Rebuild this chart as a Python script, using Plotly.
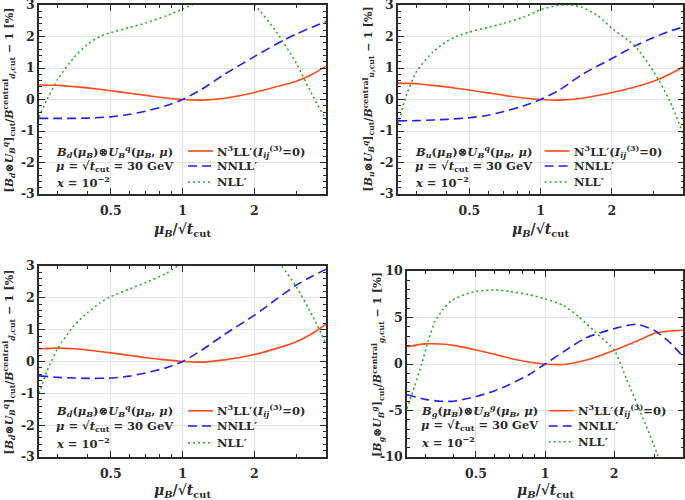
import plotly.graph_objects as go

# ---------------------------------------------------------------------------
# Data
# ---------------------------------------------------------------------------
x_ticks = [0.5, 1, 2]
x_ticktext = ['0.5', '1', '2']
x_minor = [0.3, 0.4, 0.6, 0.7, 0.8, 0.9, 3, 4]
y_ticks_small = [-3, -2, -1, 0, 1, 2, 3]
y_ticktext_small = ['-3', '-2', '-1', '0', '1', '2', '3']
y_ticks_gluon = [-10, -5, 0, 5, 10]
y_ticktext_gluon = ['-10', '-5', '0', '5', '10']

mu = [0.25, 0.3, 0.35, 0.4, 0.5, 0.6, 0.7, 0.85, 1.0, 1.2, 1.5, 2.0, 2.5, 3.0, 3.5, 4.0]

# B_d
d_n3ll = [0.46, 0.45, 0.41, 0.37, 0.28, 0.20, 0.13, 0.05, 0.0, -0.02, 0.04, 0.22, 0.41, 0.58, 0.80, 1.06]
d_nnll = [-0.60, -0.60, -0.60, -0.59, -0.55, -0.47, -0.37, -0.20, 0.0, 0.32, 0.80, 1.36, 1.78, 2.08, 2.30, 2.48]
d_nll_x = [0.25, 0.27, 0.3, 0.35, 0.4, 0.45, 0.5, 0.6, 0.7, 0.85, 1.0, 1.2, 1.4, 1.6, 1.8, 2.0, 2.5, 3.0, 3.5, 4.0]
d_nll = [-0.55, 0.0, 0.65, 1.33, 1.76, 2.0, 2.12, 2.29, 2.43, 2.65, 2.87, 3.12, 3.25, 3.25, 3.15, 3.0, 2.1, 1.15, 0.15, -0.65]

# B_u
u_n3ll = [0.52, 0.50, 0.45, 0.40, 0.30, 0.21, 0.13, 0.05, 0.0, -0.02, 0.04, 0.22, 0.40, 0.58, 0.80, 1.04]
u_nnll = [-0.68, -0.67, -0.65, -0.63, -0.58, -0.50, -0.38, -0.20, 0.0, 0.30, 0.80, 1.30, 1.70, 1.97, 2.17, 2.30]
u_nll_x = [0.25, 0.27, 0.3, 0.35, 0.4, 0.45, 0.5, 0.6, 0.7, 0.85, 1.0, 1.2, 1.35, 1.5, 1.75, 2.0, 2.5, 3.0, 3.5, 4.0]
u_nll = [-0.8, 0.1, 0.9, 1.5, 1.84, 2.03, 2.14, 2.29, 2.42, 2.62, 2.85, 3.0, 3.0, 2.93, 2.65, 2.26, 1.7, 0.88, -0.03, -1.1]

# B_dbar
db_n3ll = [0.40, 0.42, 0.40, 0.36, 0.27, 0.19, 0.12, 0.05, 0.0, -0.02, 0.05, 0.22, 0.42, 0.62, 0.88, 1.17]
db_nnll = [-0.45, -0.50, -0.52, -0.53, -0.52, -0.46, -0.36, -0.20, 0.0, 0.35, 0.85, 1.45, 1.98, 2.40, 2.68, 2.90]
db_nll_x = [0.25, 0.27, 0.3, 0.35, 0.4, 0.45, 0.5, 0.6, 0.7, 0.85, 1.0, 1.3, 1.6, 2.0, 2.3, 2.6, 3.0, 3.5, 4.0]
db_nll = [-1.0, -0.3, 0.42, 1.12, 1.54, 1.84, 2.04, 2.28, 2.48, 2.76, 3.1, 3.55, 3.75, 3.65, 3.35, 3.0, 2.35, 1.45, 0.55]

# B_g
g_n3ll = [1.85, 2.16, 2.15, 2.0, 1.5, 1.05, 0.62, 0.22, 0.0, -0.05, 0.40, 1.48, 2.45, 3.3, 3.55, 3.63]
g_nnll = [-3.3, -3.8, -4.0, -4.0, -3.5, -2.9, -2.2, -1.15, 0.0, 1.3, 2.8, 3.8, 4.28, 3.6, 2.3, 0.77]
g_nll_x = [0.25, 0.27, 0.29, 0.31, 0.33, 0.36, 0.39, 0.45, 0.5, 0.6, 0.7, 0.85, 1.0, 1.2, 1.4, 1.65, 2.0, 2.27, 2.73, 3.07, 3.5, 4.0]
g_nll = [-4.8, -2.4, 0.0, 2.5, 4.5, 5.9, 6.8, 7.5, 7.8, 7.97, 7.8, 7.45, 7.0, 6.3, 5.1, 3.45, 1.5, -1.7, -6.4, -9.6, -14.0, -19.0]

# ---------------------------------------------------------------------------
# Style
# ---------------------------------------------------------------------------
FONT = 'DejaVu Serif'
INK = '#2b2b2b'
RED, BLUE, GREEN = '#ff4a1c', '#1f1fff', '#1fb31f'
LINES = [
    dict(color=RED, width=1.6),
    dict(color=BLUE, width=1.6, dash='9px,5px'),
    dict(color=GREEN, width=1.6, dash='2px,3px'),
]

legend_names = [
    'N<sup>3</sup>LL′(<i>I</i><sub><i>ij</i></sub><sup>(3)</sup>=0)',
    'NNLL′',
    'NLL′',
]


def label_lines(b, u):
    return [
        f'<i>B</i><sub><i>{b}</i></sub>(<i>μ</i><sub><i>B</i></sub>)⊗'
        f'<i>U</i><sub><i>B</i></sub><sup><i>{u}</i></sup>(<i>μ</i><sub><i>B</i></sub>, <i>μ</i>)',
        '<i>μ</i> = √<i>t</i><sub>cut</sub> = 30 GeV',
        '<i>x</i> = 10<sup>−2</sup>',
    ]


def ytitle(b, u):
    return (f'[<i>B</i><sub><i>{b}</i></sub>⊗<i>U</i><sub><i>B</i></sub><sup><i>{u}</i></sup>]<sub>cut</sub>'
            f'/<i>B</i><sup>central</sup><sub><i>{b}</i>,cut</sub> − 1 [%]')


panels = [
    dict(b='d', u='q', n3=d_n3ll, nn=d_nnll, nlx=d_nll_x, nl=d_nll,
         xd=[0.057, 0.476], yd=[0.612, 0.99], yr=[-3, 3],
         yt=(y_ticks_small, y_ticktext_small), ym=0.2,
         key=(0.519, 0.606), rows=[0.2275, 0.148, 0.0635], lab=0.052, xt=-0.19),
    dict(b='u', u='q', n3=u_n3ll, nn=u_nnll, nlx=u_nll_x, nl=u_nll,
         xd=[0.581, 0.9975], yd=[0.612, 0.99], yr=[-3, 3],
         yt=(y_ticks_small, y_ticktext_small), ym=0.2,
         key=(0.514, 0.601), rows=[0.2275, 0.148, 0.0635], lab=0.052, xt=-0.19),
    dict(b='d̄', u='q', n3=db_n3ll, nn=db_nnll, nlx=db_nll_x, nl=db_nll,
         xd=[0.057, 0.476], yd=[0.086, 0.468], yr=[-3, 3],
         yt=(y_ticks_small, y_ticktext_small), ym=0.2,
         key=(0.519, 0.606), rows=[0.242, 0.162, 0.075], lab=0.052, xt=-0.18),
    dict(b='g', u='g', n3=g_n3ll, nn=g_nnll, nlx=g_nll_x, nl=g_nll,
         xd=[0.594, 0.9975], yd=[0.086, 0.458], yr=[-10, 10],
         yt=(y_ticks_gluon, y_ticktext_gluon), ym=1,
         key=(0.513, 0.603), rows=[0.249, 0.167, 0.082], lab=0.043, xt=-0.185),
]

fig = go.Figure()
layout = {}
annotations = []
shapes = []
text_font = dict(family=FONT, size=11.5, color=INK, weight='bold')

for i, p in enumerate(panels):
    k = '' if i == 0 else str(i + 1)
    xa, ya = f'x{k}', f'y{k}'
    series = [(mu, p['n3']), (mu, p['nn']), (p['nlx'], p['nl'])]
    for name, (xs, ys), line in zip(legend_names, series, LINES):
        fig.add_trace(go.Scatter(
            x=xs, y=ys, name=name, mode='lines',
            line=dict(shape='spline', smoothing=0.6, **line),
            xaxis=xa, yaxis=ya, showlegend=False, hoverinfo='skip',
        ))

    axis_common = dict(
        showline=True, linecolor=INK, linewidth=1.5, mirror='allticks',
        ticks='inside', ticklen=6, tickwidth=1.2, tickcolor=INK,
        showgrid=True, gridcolor='#e3e3e3', gridwidth=1, zeroline=False,
        automargin=False, ticklabeloverflow='allow',
        tickfont=dict(family=FONT, size=12.5, color=INK, weight='bold'),
    )
    layout[f'xaxis{k}'] = dict(
        axis_common, type='log', domain=p['xd'], anchor=ya,
        range=[-0.60206, 0.60206], tickvals=x_ticks, ticktext=x_ticktext,
        ticklabelstandoff=4,
        minor=dict(tickvals=x_minor, ticks='inside', ticklen=3, tickcolor=INK, showgrid=False),
    )
    layout[f'yaxis{k}'] = dict(
        axis_common, domain=p['yd'], anchor=xa, range=p['yr'],
        tickvals=p['yt'][0], ticktext=p['yt'][1],
        minor=dict(dtick=p['ym'], ticks='inside', ticklen=3, tickcolor=INK, showgrid=False),
    )

    dref = dict(xref=f'{xa} domain', yref=f'{ya} domain', showarrow=False)
    # label block (left) and hand-made legend (right), row by row
    for row_y, lab, name, line in zip(p['rows'], label_lines(p['b'], p['u']), legend_names, LINES):
        annotations.append(dict(dref, x=p['lab'], y=row_y, xanchor='left', yanchor='middle',
                                text=lab, font=text_font))
        annotations.append(dict(dref, x=p['key'][1] + 0.008, y=row_y, xanchor='left', yanchor='middle',
                                text=name, font=text_font))
        shapes.append(dict(type='line', xref=f'{xa} domain', yref=f'{ya} domain',
                           x0=p['key'][0], x1=p['key'][1], y0=row_y, y1=row_y,
                           line=dict(color=line['color'], width=line['width'], dash=line.get('dash', 'solid'))))

    annotations.append(dict(
        dref, x=0.5, y=p['xt'], xanchor='center', yanchor='middle',
        text='<i>μ</i><sub><i>B</i></sub>/√<i>t</i><sub>cut</sub>',
        font=dict(family=FONT, size=14, color=INK, weight='bold'),
    ))
    annotations.append(dict(
        dref, x=-0.105, y=0.5, xanchor='center', yanchor='middle', textangle=-90,
        text=ytitle(p['b'], p['u']),
        font=dict(family=FONT, size=11, color=INK, weight='bold'),
    ))

fig.update_layout(
    width=685, height=500,
    margin=dict(l=0, r=0, t=0, b=0),
    paper_bgcolor='white', plot_bgcolor='white',
    showlegend=False, hovermode=False, annotations=annotations, shapes=shapes,
    **layout,
)

# the page's default 8px body margin would push the figure off-window
fig.write_html('out.html', config={'displayModeBar': False},
               post_script="document.body.style.margin='0';")
